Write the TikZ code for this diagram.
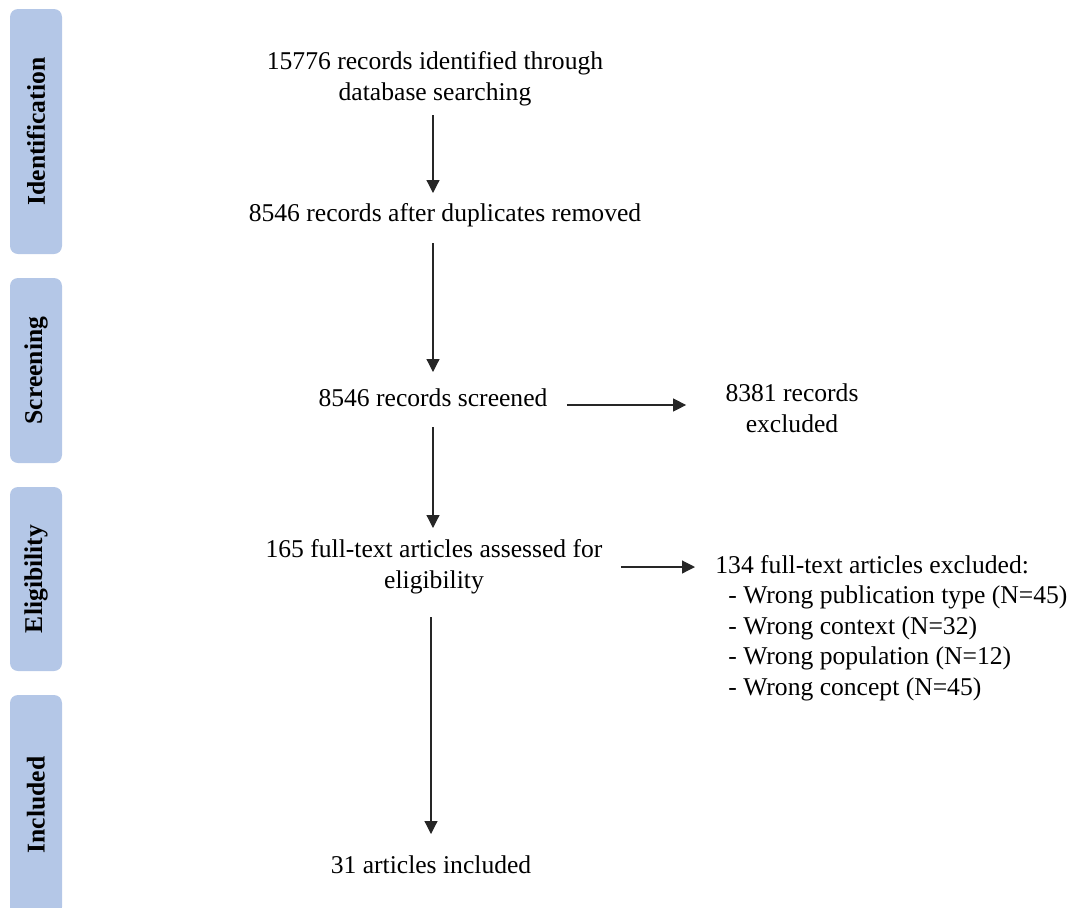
\documentclass[tikz,border=0pt]{standalone}
\usepackage{fontspec}
\setmainfont{Liberation Serif}
\usetikzlibrary{arrows.meta,positioning}
\definecolor{stageblue}{HTML}{B4C7E7}
\tikzset{
  stage/.style={rotate=90, fill=stageblue, rounded corners=4pt,
    minimum height=26pt, inner sep=0pt, font=\bfseries},
  box/.style={align=center, inner sep=0pt},
  arr/.style={-{Triangle[length=6.5pt,width=6.5pt]}, line width=0.6pt, black!85},
}
\begin{document}
\fontsize{12.8}{15.5}\selectfont
\begin{tikzpicture}[x=0.5pt,y=-0.5pt]
      \useasboundingbox (0,0) rectangle (1073,907);
      % stages
      \node[stage, minimum width=122.5pt] (ident) at (36,131.5) {Identification};
      \node[stage, minimum width=92.5pt] (screen) at (36,370.5) {Screening};
      \node[stage, minimum width=92pt] (elig) at (36,579) {Eligibility};
      \node[stage, minimum width=110pt] (incl) at (36,805) {Included};
      % flow
      \node[box] (n1) at (435,79) {15776 records identified through\\database searching};
      \node[box] (n2) at (445,215) {8546 records after duplicates removed};
      \node[box] (n3) at (433,398) {8546 records screened};
      \node[box] (n4) at (792,408) {8381 records\\excluded};
      \node[box] (n5) at (434,567) {165 full-text articles assessed for\\eligibility};
      \node[box, align=left, anchor=west, font=\fontsize{12.8}{15.2}\selectfont] (n6) at (715,628)
        {134 full-text articles excluded:\\
         \hspace*{6.5pt}- Wrong publication type (N=45)\\
         \hspace*{6.5pt}- Wrong context (N=32)\\
         \hspace*{6.5pt}- Wrong population (N=12)\\
         \hspace*{6.5pt}- Wrong concept (N=45)};
      \node[box] (n7) at (431,865) {31 articles included};
      \begin{scope}[arr]
        \draw[shorten <=18pt, shorten >=11pt] (n1.center -| n3.center) -- (n2.center -| n3.center);
        \draw[shorten <=14pt, shorten >=13pt] (n2.center -| n3.center) -- (n3.center);
        \draw[shorten <=14.5pt, shorten >=19.5pt] (n3.center) -- (n5.center -| n3.center);
        \draw[shorten <=25pt, shorten >=15.5pt] (n5.center -| n7.center) -- (n7.center);
        \draw[shorten <=9.5pt, shorten >=19.5pt] ([yshift=-3.5pt]n3.east) -- ([yshift=-3.5pt]n3.east -| n4.west);
        \draw[shorten <=9pt, shorten >=10pt] (n5.east) -- (n5.east -| n6.west);
      \end{scope}
    \end{tikzpicture}
\end{document}
